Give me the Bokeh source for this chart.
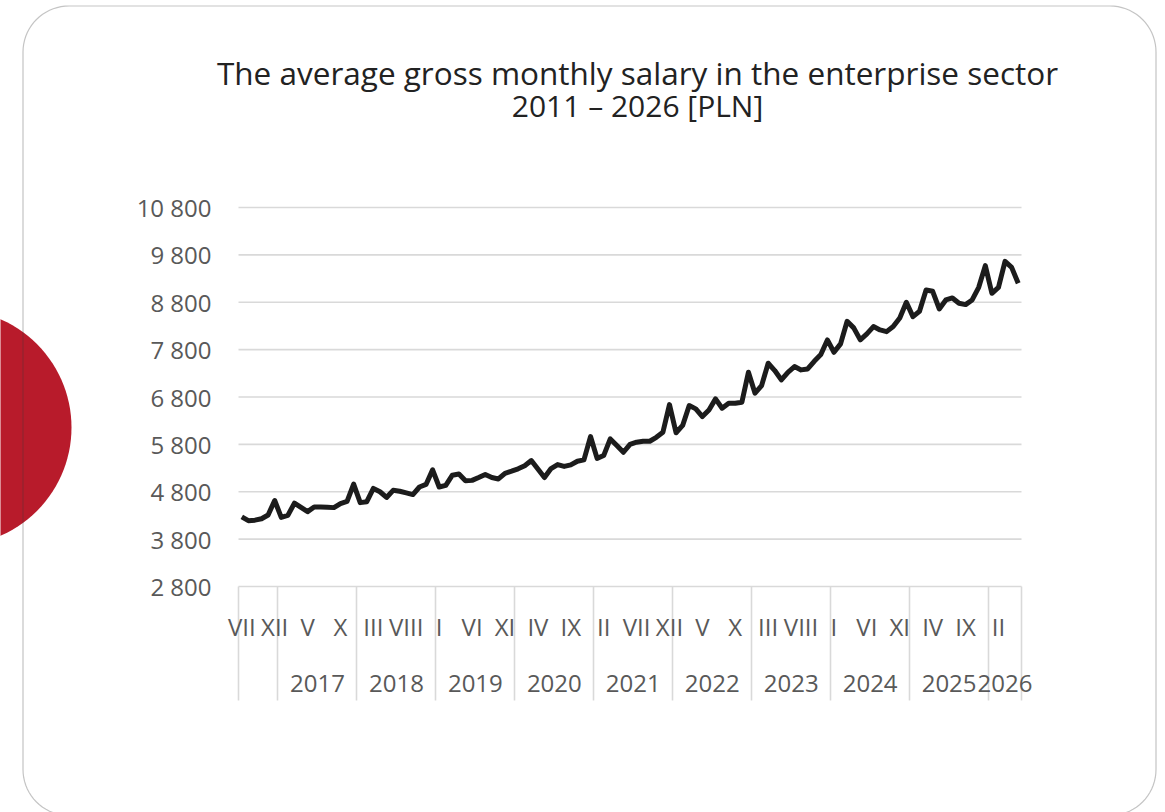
import math
from bokeh.plotting import figure
from bokeh.models import Range1d, LinearAxis, FixedTicker, Label, PolyAnnotation
from bokeh.embed import file_html
from bokeh.resources import INLINE

# ---------------- data ----------------
roman = ["I", "II", "III", "IV", "V", "VI", "VII", "VIII", "IX", "X", "XI", "XII"]
years = [2016, 2017, 2018, 2019, 2020, 2021, 2022, 2023, 2024, 2025, 2026]
first_month = 7          # series starts in July 2016
s2016 = [4270, 4190, 4200, 4230, 4310, 4615]
s2017 = [4260, 4300, 4560, 4470, 4380, 4480, 4480, 4475, 4465, 4550, 4595, 4960]
s2018 = [4570, 4590, 4870, 4800, 4680, 4830, 4810, 4775, 4740, 4900, 4955, 5262]
s2019 = [4900, 4935, 5150, 5175, 5030, 5040, 5100, 5165, 5100, 5070, 5190, 5235]
s2020 = [5285, 5350, 5459, 5280, 5100, 5290, 5374, 5335, 5367, 5444, 5473, 5965]
s2021 = [5505, 5564, 5916, 5775, 5634, 5800, 5845, 5866, 5866, 5950, 6056, 6640]
s2022 = [6045, 6200, 6619, 6549, 6387, 6527, 6760, 6563, 6668, 6668, 6690, 7322]
s2023 = [6880, 7040, 7512, 7358, 7161, 7322, 7442, 7372, 7393, 7554, 7695, 8005]
s2024 = [7744, 7921, 8398, 8259, 8005, 8132, 8286, 8216, 8180, 8286, 8469, 8799]
s2025 = [8497, 8609, 9060, 9031, 8659, 8849, 8891, 8778, 8750, 8849, 9115, 9573]
s2026 = [8989, 9115, 9664, 9537, 9200]
y_ticks = [2800, 3800, 4800, 5800, 6800, 7800, 8800, 9800, 10800]
title_line1 = "The average gross monthly salary in the enterprise sector"
title_line2 = "2011 – 2026 [PLN]"

series = [s2016, s2017, s2018, s2019, s2020, s2021, s2022, s2023, s2024, s2025, s2026]
values = [v for s in series for v in s]
xs = list(range(len(values)))
month_names = [roman[(first_month - 1 + i) % 12] for i in xs]

# group boundaries / centers
bounds = [-0.5]
centers = []
start = 0
for s in series:
    end = start + len(s)
    bounds.append(end - 0.5)
    centers.append((start + end - 1) / 2)
    start = end

def num(v):
    return int(v) if float(v).is_integer() else v

month_ticks = xs[::5]
month_over = {num(t): month_names[t] for t in month_ticks}
year_over = {num(c): str(y) for c, y in zip(centers[1:], years[1:])}
y_over = {t: f"{t:,}".replace(",", " ") for t in y_ticks}

# ---------------- geometry (canvas pixels) ----------------
W, H = 1165, 812
CL, CR, CT, CB = 238, 1021, 207, 586      # chart area inside the canvas
dx0, dx1 = xs[0] - 0.5, xs[-1] + 0.5
dy0, dy1 = y_ticks[0], y_ticks[-1]

def px2x(px):
    return dx0 + (px - CL) * (dx1 - dx0) / (CR - CL)

def py2y(py):
    return dy1 - (py - CT) * (dy1 - dy0) / (CB - CT)

FONT = "Open Sans"
GREY = "#595959"
GRID = "#d9d9d9"
AX_FS = "24px"

p = figure(width=W, height=H, output_backend="svg", toolbar_location=None,
           x_range=Range1d(px2x(0), px2x(W)), y_range=Range1d(py2y(H), py2y(0)),
           min_border=0, title_location=None,
           x_axis_location=None, y_axis_location=None)
p.outline_line_color = None
p.background_fill_color = "white"
p.border_fill_color = "white"
p.xgrid.visible = False
p.ygrid.visible = False

# decorative red disc and rounded frame
cx, cy, r = -47, 427, 118
circ = [(cx + r * math.cos(2 * math.pi * k / 120), cy + r * math.sin(2 * math.pi * k / 120)) for k in range(120)]
p.add_layout(PolyAnnotation(xs=[px2x(a) for a, b in circ], ys=[py2y(b) for a, b in circ],
                            fill_color="#b81b2b", fill_alpha=1, line_color=None))

L, T, R, B, rad = 22.5, 5.5, 1155.5, 815, 46
pts = []
for (ccx, ccy, a0) in [(R - rad, T + rad, -90), (R - rad, B - rad, 0), (L + rad, B - rad, 90), (L + rad, T + rad, 180)]:
    for k in range(19):
        a = math.radians(a0 + 5 * k)
        pts.append((ccx + rad * math.cos(a), ccy + rad * math.sin(a)))
pts.append(pts[0])
p.add_layout(PolyAnnotation(xs=[px2x(a) for a, b in pts], ys=[py2y(b) for a, b in pts],
                            fill_color=None, fill_alpha=0, line_color="#3a3a3a", line_width=1.2))

# horizontal grid lines at the value ticks, across the category span
p.segment(x0=[dx0] * len(y_ticks), x1=[dx1] * len(y_ticks), y0=y_ticks, y1=y_ticks,
          line_color=GRID, line_width=1.6)

# y axis
ya = LinearAxis(ticker=FixedTicker(ticks=y_ticks, minor_ticks=[]), major_label_overrides=y_over,
                fixed_location=dx0)
ya.axis_line_color = None
ya.major_tick_line_color = None
ya.minor_tick_line_color = None
ya.major_tick_out = 0
ya.major_label_standoff = 27
ya.major_label_text_font = FONT
ya.major_label_text_font_size = AX_FS
ya.major_label_text_color = GREY
p.add_layout(ya, "left")

# month axis (group separators drawn as minor ticks)
xa = LinearAxis(ticker=FixedTicker(ticks=month_ticks, minor_ticks=bounds),
                major_label_overrides=month_over, fixed_location=dy0)
xa.axis_line_color = None
xa.major_tick_line_color = None
xa.major_tick_out = 0
xa.major_tick_in = 0
xa.minor_tick_in = 0
xa.minor_tick_out = 114
xa.minor_tick_line_color = GRID
xa.minor_tick_line_width = 1.6
xa.major_label_standoff = -91
xa.major_label_text_font = FONT
xa.major_label_text_font_size = AX_FS
xa.major_label_text_color = GREY
p.add_layout(xa, "below")

# year axis
ya2 = LinearAxis(ticker=FixedTicker(ticks=[num(c) for c in centers[1:]], minor_ticks=[]),
                 major_label_overrides=year_over, fixed_location=dy0)
ya2.axis_line_color = None
ya2.major_tick_line_color = None
ya2.minor_tick_line_color = None
ya2.major_tick_out = 0
ya2.major_label_standoff = 88
ya2.major_label_text_font = FONT
ya2.major_label_text_font_size = AX_FS
ya2.major_label_text_color = GREY
p.add_layout(ya2, "below")

# title lines
for txt, ty, fs in [(title_line1, 72, "31.5px"), (title_line2, 105, "30px")]:
    p.add_layout(Label(x=px2x(637), y=py2y(ty), text=txt, text_align="center", text_baseline="middle",
                       text_font=FONT, text_font_size=fs, text_color="#222222"))

# data line
p.line(xs, values, line_width=5, line_color="#1c1c1c", line_join="round")

open("out.html", "w").write(file_html(p, INLINE))
